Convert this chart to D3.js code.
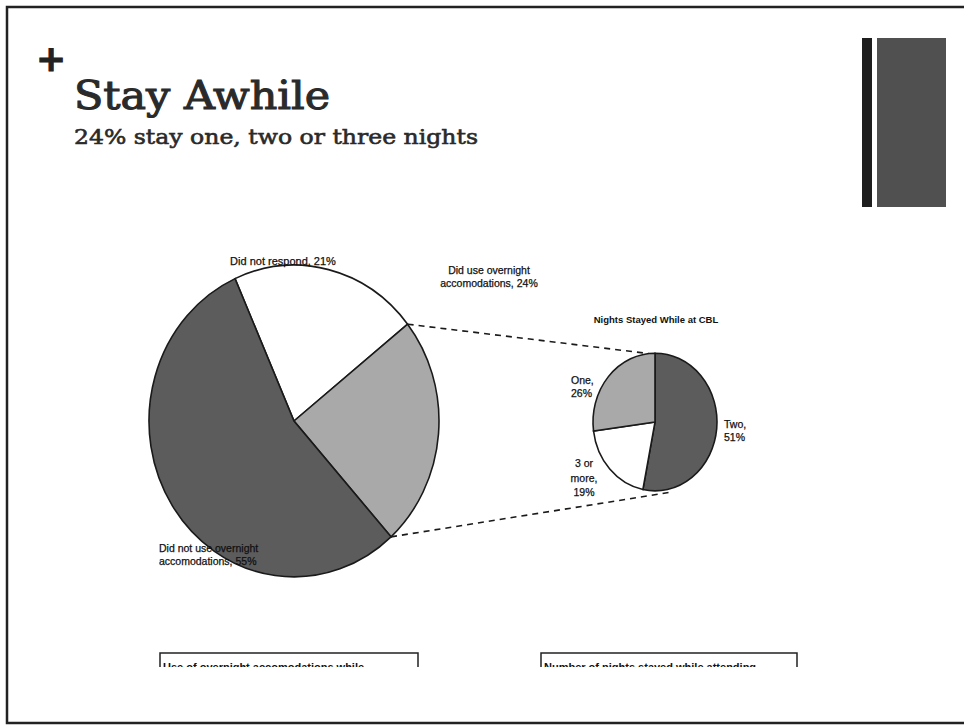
<!DOCTYPE html>
<html>
<head>
<meta charset="utf-8">
<script src="https://cdn.jsdelivr.net/npm/d3@7"></script>
<style>
  html, body { margin: 0; padding: 0; background: #fff; }
  svg { display: block; }
</style>
</head>
<body>
<svg id="chart" width="964" height="727"></svg>
<script>
// ---- data ----
const mainCategories = ["Did not respond", "Did use overnight accomodations", "Did not use overnight accomodations"];
const mainValues = [21, 24, 55];
const mainLabels = ["Did not respond, 21%", "Did use overnight\naccomodations, 24%", "Did not use overnight\naccomodations, 55%"];

const subCategories = ["Two", "3 or more", "One"];
const subValues = [51, 19, 26];
const subLabels = ["Two,\n51%", "3 or\nmore,\n19%", "One,\n26%"];

const titleText = "Stay Awhile";
const subtitleText = "24% stay one, two or three nights";
const subChartTitle = "Nights Stayed While at CBL";
const boxTitles = ["Use of overnight accomodations while", "Number of nights stayed while attending"];

// ---- styles ----
const mainColors = ["#ffffff", "#a9a9a9", "#5c5c5c"];
const subColors = ["#5c5c5c", "#ffffff", "#a9a9a9"];

const svg = d3.select("#chart");

// slide frame
svg.append("path")
  .attr("d", "M964,7 L7,7 L7,723 L964,723")
  .attr("fill", "none").attr("stroke", "#222").attr("stroke-width", 2.5);

// decorative bars top-right
svg.append("rect").attr("x", 862).attr("y", 38).attr("width", 10).attr("height", 169).attr("fill", "#1e1e1e");
svg.append("rect").attr("x", 877).attr("y", 38).attr("width", 69).attr("height", 169).attr("fill", "#505050");

// plus sign + titles
svg.append("text").attr("x", 36).attr("y", 71).text("+")
  .attr("font-family", "DejaVu Sans, sans-serif").attr("font-weight", "bold").attr("font-size", 36).attr("fill", "#222")
  .attr("stroke", "#222").attr("stroke-width", 1);
svg.append("text").attr("x", 74).attr("y", 109).text(titleText)
  .attr("font-family", "DejaVu Serif, serif").attr("font-size", 40).attr("fill", "#2a2a2a")
  .attr("stroke", "#2a2a2a").attr("stroke-width", 1.1)
  .attr("textLength", 256).attr("lengthAdjust", "spacingAndGlyphs");
svg.append("text").attr("x", 74).attr("y", 144).text(subtitleText)
  .attr("font-family", "DejaVu Serif, serif").attr("font-size", 21).attr("fill", "#2a2a2a")
  .attr("stroke", "#2a2a2a").attr("stroke-width", 0.6)
  .attr("textLength", 404).attr("lengthAdjust", "spacingAndGlyphs");

const deg = Math.PI / 180;

// ---- main pie ----
const main = { cx: 294, cy: 421, r: 145, sy: 1.075 };
const mainPie = d3.pie().sort(null).startAngle(-24 * deg).endAngle(336 * deg);
const mainArcs = mainPie(mainValues);
const arcGen = d3.arc().innerRadius(0);

const gMain = svg.append("g").attr("transform", `translate(${main.cx},${main.cy}) scale(1,${main.sy})`);
gMain.selectAll("path").data(mainArcs).enter().append("path")
  .attr("d", d => arcGen.outerRadius(main.r)(d))
  .attr("fill", (d, i) => mainColors[i])
  .attr("stroke", "#1a1a1a").attr("stroke-width", 1.6)
  .attr("vector-effect", "non-scaling-stroke");

// ---- sub pie ----
const sub = { cx: 655, cy: 422, r: 62, sy: 1.11 };
const subPie = d3.pie().sort(null).startAngle(0).endAngle(2 * Math.PI);
const subArcs = subPie(subValues);
const gSub = svg.append("g").attr("transform", `translate(${sub.cx},${sub.cy}) scale(1,${sub.sy})`);
gSub.selectAll("path").data(subArcs).enter().append("path")
  .attr("d", d => arcGen.outerRadius(sub.r)(d))
  .attr("fill", (d, i) => subColors[i])
  .attr("stroke", "#1a1a1a").attr("stroke-width", 1.6)
  .attr("vector-effect", "non-scaling-stroke");

// connector lines (from the "did use" slice edges to the sub pie)
function pt(c, a, r) { return [c.cx + Math.sin(a) * r, c.cy - Math.cos(a) * r * c.sy]; }
const useArc = mainArcs[1];
const p1 = pt(main, useArc.startAngle, main.r), q1 = pt(sub, -6 * deg, sub.r);
const p2 = pt(main, useArc.endAngle, main.r), q2 = pt(sub, 168 * deg, sub.r + 3);
[[p1, q1], [p2, q2]].forEach(([a, b]) => {
  svg.append("line").attr("x1", a[0]).attr("y1", a[1]).attr("x2", b[0]).attr("y2", b[1])
    .attr("stroke", "#1a1a1a").attr("stroke-width", 1.6).attr("stroke-dasharray", "6,5");
});

// ---- labels ----
const labelFont = "Liberation Sans, Arial, sans-serif";
function multiline(x, y, str, anchor, size, lh, weight) {
  const t = svg.append("text").attr("x", x).attr("y", y)
    .attr("font-family", labelFont).attr("font-size", size).attr("fill", "#111")
    .attr("stroke", "#111").attr("stroke-width", 0.25)
    .attr("text-anchor", anchor).attr("font-weight", weight || "normal");
  str.split("\n").forEach((s, i) => {
    t.append("tspan").attr("x", x).attr("dy", i === 0 ? 0 : lh).text(s);
  });
  return t;
}
multiline(283, 265, mainLabels[0], "middle", 11, 13);
multiline(489, 274, mainLabels[1], "middle", 10.5, 13);
multiline(159, 552, mainLabels[2], "start", 10.5, 13);

svg.append("text").attr("x", 656).attr("y", 323).text(subChartTitle)
  .attr("font-family", labelFont).attr("font-size", 9.5).attr("font-weight", "bold")
  .attr("text-anchor", "middle").attr("fill", "#111");

multiline(724, 428, subLabels[0], "start", 10.5, 13);
multiline(584, 467, subLabels[1], "middle", 10.5, 14.5);
multiline(571, 384, subLabels[2], "start", 10.5, 13);

// ---- bottom boxes (cut off) ----
const defs = svg.append("defs");
defs.append("clipPath").attr("id", "cutBottom")
  .append("rect").attr("x", 0).attr("y", 0).attr("width", 964).attr("height", 667);
const boxes = [{ x: 160, w: 258 }, { x: 541, w: 256 }];
boxes.forEach((b, i) => {
  const g = svg.append("g").attr("clip-path", "url(#cutBottom)");
  g.append("path").attr("d", `M${b.x},667 L${b.x},653 L${b.x + b.w},653 L${b.x + b.w},667`)
    .attr("fill", "none").attr("stroke", "#222").attr("stroke-width", 1.5);
  g.append("text").attr("x", b.x + 3).attr("y", 671).text(boxTitles[i])
    .attr("font-family", labelFont).attr("font-size", 11).attr("font-weight", "bold").attr("fill", "#111");
});
</script>
</body>
</html>
